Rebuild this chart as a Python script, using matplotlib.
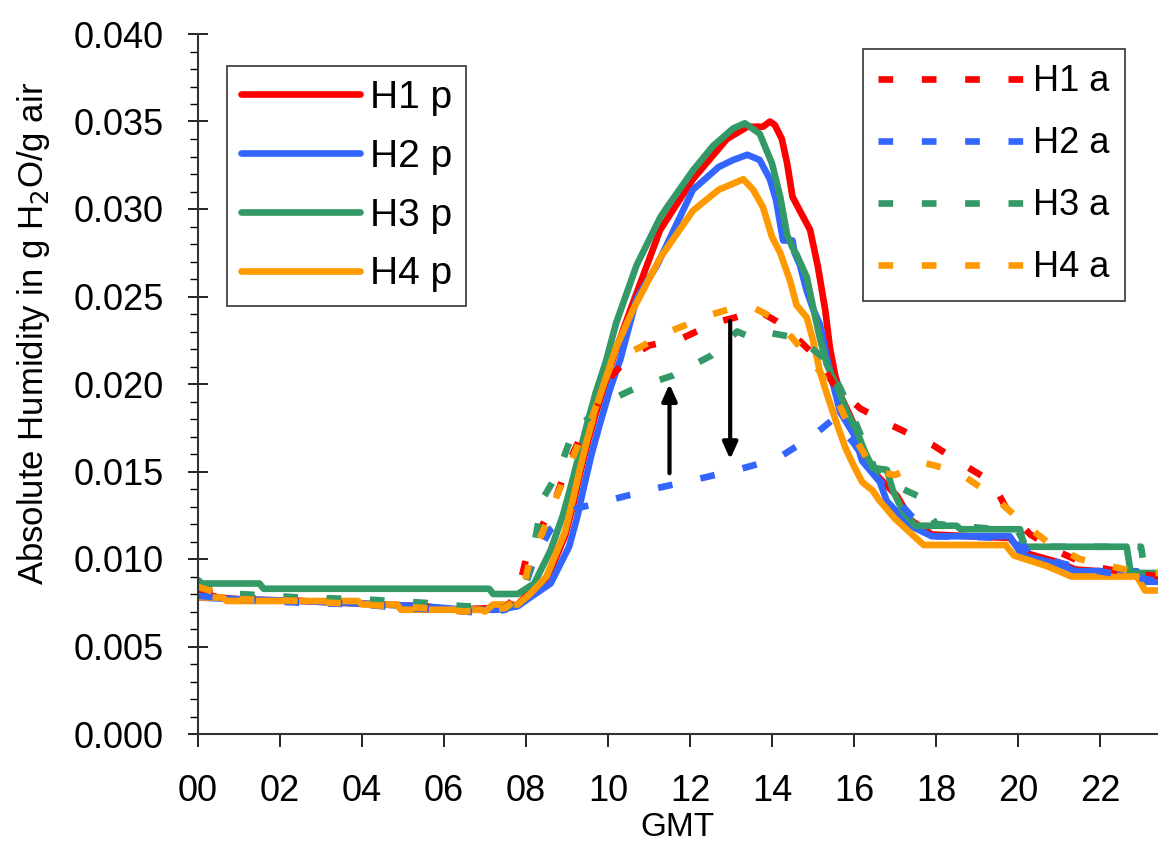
import matplotlib

matplotlib.use("Agg")
import matplotlib.pyplot as plt
from matplotlib.ticker import MultipleLocator, FuncFormatter

plt.rcParams["font.family"] = ["Liberation Sans", "DejaVu Sans"]

# --- data (GMT hour, absolute humidity g/g) ---
h1p_t = [0, 0.5, 1.0, 2.5, 3.5, 4.5, 5.5, 6.2, 7.2, 7.8, 8.0, 8.5, 8.95, 9.15, 9.3, 9.5, 9.7, 9.97,
         10.2, 10.54, 11.27, 12.07, 12.9, 13.4, 13.78, 13.95, 14.07, 14.24, 14.37, 14.5, 14.68, 14.93,
         15.12, 15.3, 15.41, 15.54, 15.7, 15.9, 16.07, 16.2, 16.46, 16.8, 17.05, 17.4, 17.9, 19.8,
         20.1, 21.0, 21.4, 22.6, 23.5]
h1p_v = [0.0081, 0.0078, 0.0077, 0.0076, 0.0075, 0.0074, 0.0073, 0.0071, 0.0072, 0.0074, 0.0079,
         0.0088, 0.0113, 0.0131, 0.0147, 0.0166, 0.0183, 0.0203, 0.0220, 0.0242, 0.0288, 0.0317,
         0.0340, 0.0347, 0.0347, 0.0350, 0.0348, 0.0340, 0.0326, 0.0307, 0.0299, 0.0288, 0.0267,
         0.0242, 0.0221, 0.0205, 0.0192, 0.0182, 0.0173, 0.0163, 0.0150, 0.0142, 0.0136, 0.0122,
         0.0114, 0.0112, 0.0104, 0.0098, 0.0094, 0.0092, 0.0089]

h2p_t = [0, 1.0, 2.5, 3.5, 4.5, 5.5, 6.5, 7.3, 7.8, 8.1, 8.6, 9.05, 9.25, 9.4, 9.6, 9.8, 10.05, 10.3,
         10.7, 11.2, 12.07, 12.7, 13.05, 13.4, 13.7, 13.95, 14.1, 14.27, 14.5, 14.55, 14.68, 14.85,
         15.0, 15.17, 15.34, 15.5, 15.66, 16.0, 16.2, 16.63, 16.8, 17.37, 17.9, 19.8, 20.1, 21.0,
         21.4, 22.9, 23.0, 23.5]
h2p_v = [0.0078, 0.0077, 0.0076, 0.0075, 0.0074, 0.0073, 0.0071, 0.0071, 0.0073, 0.0078, 0.0086,
         0.0107, 0.0124, 0.0140, 0.0160, 0.0177, 0.0197, 0.0214, 0.0249, 0.0268, 0.0311, 0.0324,
         0.0328, 0.0331, 0.0328, 0.0317, 0.0305, 0.0282, 0.0282, 0.0275, 0.0268, 0.0253, 0.0243,
         0.0234, 0.0215, 0.0199, 0.0184, 0.0171, 0.0156, 0.0144, 0.0133, 0.0119, 0.0113, 0.0113,
         0.0102, 0.0097, 0.0093, 0.0093, 0.0087, 0.0087]

h3p_t = [0, 0.1, 1.5, 1.6, 7.1, 7.2, 7.8, 8.2, 8.6, 8.9, 9.1, 9.3, 9.5, 9.7, 9.95, 10.2, 10.7,
         11.27, 11.44, 12.07, 12.56, 13.05, 13.34, 13.7, 14.0, 14.2, 14.37, 14.5, 14.6, 14.85, 15.0,
         15.17, 15.34, 15.6, 15.83, 16.07, 16.27, 16.46, 16.8, 16.95, 17.2, 17.5, 18.5, 18.6, 20.05,
         20.15, 22.65, 22.75, 23.5]
h3p_v = [0.0088, 0.0086, 0.0086, 0.0083, 0.0083, 0.0080, 0.0080, 0.0086, 0.0105, 0.0125, 0.0142,
         0.0160, 0.0178, 0.0195, 0.0213, 0.0235, 0.0268, 0.0295, 0.0301, 0.0322, 0.0336, 0.0346,
         0.0349, 0.0343, 0.0326, 0.0307, 0.0285, 0.0278, 0.0274, 0.0261, 0.0244, 0.0226, 0.0211,
         0.0198, 0.0184, 0.0173, 0.0161, 0.0152, 0.0151, 0.0139, 0.0127, 0.0119, 0.0119, 0.0117,
         0.0117, 0.0107, 0.0107, 0.0092, 0.0092]

h4p_t = [0, 0.05, 0.6, 0.7, 3.9, 4.0, 4.85, 4.95, 6.9, 7.0, 7.2, 7.8, 8.1, 8.5, 8.95, 9.15, 9.3,
         9.5, 9.7, 9.97, 10.2, 10.6, 11.27, 12.07, 12.7, 13.3, 13.54, 13.78, 14.0, 14.2, 14.44, 14.6,
         14.85, 15.0, 15.17, 15.37, 15.6, 15.8, 16.0, 16.2, 16.46, 16.6, 17.0, 17.37, 17.7, 19.7,
         19.9, 20.7, 21.3, 22.9, 23.1, 23.5]
h4p_v = [0.0084, 0.0078, 0.0078, 0.0076, 0.0076, 0.0074, 0.0074, 0.0071, 0.0071, 0.0070, 0.0074,
         0.0074, 0.0080, 0.0090, 0.01155, 0.01345, 0.0150, 0.0169, 0.0186, 0.0205, 0.0221, 0.0242,
         0.0272, 0.0299, 0.0311, 0.0317, 0.0311, 0.0301, 0.0284, 0.0275, 0.0259, 0.0245, 0.0238,
         0.0225, 0.0207, 0.0192, 0.0176, 0.0163, 0.0153, 0.0144, 0.0139, 0.0134, 0.0123, 0.0115,
         0.0108, 0.0108, 0.0102, 0.0096, 0.0090, 0.0090, 0.0082, 0.0082]

h1a_t = [0, 1.0, 2.5, 4.0, 5.5, 6.5, 7.5, 7.8, 8.0, 8.35, 8.7, 9.0, 9.3, 9.6, 10.1, 10.5, 11.0,
         11.8, 12.6, 13.1, 13.66, 14.1, 14.44, 15.1, 15.5, 16.15, 16.95, 17.93, 18.66, 19.37, 19.76,
         20.3, 21.0, 21.75, 22.7, 23.5]
h1a_v = [0.0082, 0.0078, 0.0076, 0.0074, 0.0073, 0.0070, 0.0072, 0.0080, 0.0100, 0.0117, 0.0133,
         0.0153, 0.0168, 0.0180, 0.0205, 0.0215, 0.0222, 0.0226, 0.0235, 0.0238, 0.0242, 0.0236,
         0.0230, 0.0215, 0.0200, 0.0186, 0.0176, 0.0165, 0.0154, 0.0144, 0.0127, 0.0114, 0.0104,
         0.0096, 0.0092, 0.0090]

h2a_t = [0, 1.0, 2.5, 4.0, 5.0, 6.0, 7.0, 7.5, 7.9, 8.2, 8.6, 9.25, 10.1, 11.1, 12.07, 13.15, 14.1,
         14.98, 15.5, 16.0, 16.5, 17.0, 17.5, 18.0, 20.0, 20.3, 21.5, 22.5, 23.5]
h2a_v = [0.0079, 0.0077, 0.0075, 0.0074, 0.0072, 0.0071, 0.0069, 0.0071, 0.0079, 0.0100, 0.0117,
         0.0129, 0.0134, 0.0140, 0.0145, 0.0151, 0.0157, 0.0170, 0.0180, 0.0166, 0.0148, 0.0135,
         0.0122, 0.0113, 0.0112, 0.0102, 0.0095, 0.0091, 0.0087]

h3a_t = [0, 1.0, 2.5, 4.0, 5.5, 6.5, 7.5, 7.9, 8.1, 8.4, 8.8, 9.15, 9.5, 9.8, 10.7, 11.6, 12.5,
         13.15, 13.55, 14.0, 14.68, 15.25, 15.66, 16.0, 16.5, 17.0, 17.56, 18.0, 20.0, 20.2, 23.0,
         23.1, 23.5]
h3a_v = [0.0086, 0.0080, 0.0078, 0.0077, 0.0075, 0.0073, 0.0072, 0.0078, 0.0095, 0.0134, 0.0150,
         0.0173, 0.0180, 0.0188, 0.0198, 0.0205, 0.0216, 0.0230, 0.0226, 0.0229, 0.0226, 0.0215,
         0.0198, 0.0180, 0.0152, 0.0142, 0.0136, 0.0120, 0.0116, 0.0107, 0.0107, 0.0092, 0.0092]

h4a_t = [0, 1.0, 2.5, 4.0, 5.5, 6.5, 7.5, 7.9, 8.1, 8.4, 8.7, 9.0, 9.3, 9.6, 10.1, 10.78, 11.5,
         12.56, 13.0, 13.6, 14.1, 14.76, 15.17, 15.6, 16.0, 16.5, 17.0, 17.7, 18.2, 18.7, 19.4,
         20.05, 20.7, 21.5, 22.24, 23.0, 23.5]
h4a_v = [0.0084, 0.0077, 0.0076, 0.0074, 0.0072, 0.0070, 0.0072, 0.0080, 0.0100, 0.0115, 0.0133,
         0.0150, 0.0167, 0.0180, 0.0213, 0.0221, 0.0230, 0.0240, 0.0243, 0.0243, 0.0237, 0.0219,
         0.0207, 0.0190, 0.0170, 0.0150, 0.0148, 0.0155, 0.0152, 0.0147, 0.0136, 0.0122, 0.0110,
         0.0100, 0.0096, 0.0092, 0.0092]

# arrows (x, tail y, head y)
up_arrow = (11.5, 0.0149, 0.0200)
down_arrow = (12.98, 0.0236, 0.0157)

RED, BLUE, GREEN, ORANGE = "#FF0000", "#3366FF", "#339966", "#FF9900"

fig = plt.figure(figsize=(11.58, 8.48), dpi=100)
ax = fig.add_axes([198 / 1158, 1 - 734 / 848, 960 / 1158, 700 / 848])

LW = 4.8
solid = [(h1p_t, h1p_v, RED, "H1 p"), (h2p_t, h2p_v, BLUE, "H2 p"),
         (h3p_t, h3p_v, GREEN, "H3 p"), (h4p_t, h4p_v, ORANGE, "H4 p")]
dashed = [(h1a_t, h1a_v, RED, "H1 a"), (h2a_t, h2a_v, BLUE, "H2 a"),
          (h3a_t, h3a_v, GREEN, "H3 a"), (h4a_t, h4a_v, ORANGE, "H4 a")]

solid_lines = []
for t, v, c, lab in solid:
    ln, = ax.plot(t, v, color=c, lw=LW, label=lab, solid_joinstyle="round", solid_capstyle="round")
    solid_lines.append(ln)
dash_lines = []
for t, v, c, lab in dashed:
    ln, = ax.plot(t, v, color=c, lw=LW, label=lab, linestyle=(0, (2.2, 4.3)), dash_capstyle="butt")
    dash_lines.append(ln)

for x, y0, y1 in (up_arrow, down_arrow):
    ax.annotate("", xy=(x, y1), xytext=(x, y0),
                arrowprops=dict(arrowstyle="-|>,head_length=1.0,head_width=0.45", lw=3, color="black",
                                shrinkA=0, shrinkB=0))

ax.set_xlim(0, 960 / 41)
ax.set_ylim(0, 0.040)
ax.xaxis.set_major_locator(MultipleLocator(2))
ax.xaxis.set_major_formatter(FuncFormatter(lambda x, p: f"{int(round(x)):02d}"))
ax.yaxis.set_major_locator(MultipleLocator(0.005))
ax.yaxis.set_minor_locator(MultipleLocator(0.001))
ax.yaxis.set_major_formatter(FuncFormatter(lambda y, p: f"{y:.3f}"))

for s in ("top", "right"):
    ax.spines[s].set_visible(False)
for s in ("left", "bottom"):
    ax.spines[s].set_linewidth(1.5)
    ax.spines[s].set_color("#333333")

ax.tick_params(axis="y", which="major", direction="inout", length=15, width=1.2, labelsize=26, pad=17)
ax.tick_params(axis="y", which="minor", direction="out", length=6, width=1.0)
ax.tick_params(axis="x", which="major", direction="out", length=9, width=1.2, labelsize=26, pad=20)

fig.text(34 / 1158, 1 - 333 / 848, "Absolute Humidity in g H$_2$O/g air", rotation=90,
         ha="center", va="center", fontsize=25)
fig.text(677 / 1158, 1 - 828 / 848, "GMT", ha="center", va="center", fontsize=24)

leg1 = ax.legend(handles=solid_lines, loc="upper left", bbox_to_anchor=((227 - 198) / 960, (734 - 66) / 700),
                 borderaxespad=0, fontsize=28, handlelength=3.06, handletextpad=0.26, labelspacing=0.59,
                 borderpad=0.35, frameon=True, fancybox=False, edgecolor="#333333", framealpha=1)
leg1.get_frame().set_linewidth(1.2)
ax.add_artist(leg1)
leg2 = ax.legend(handles=dash_lines, loc="upper left", bbox_to_anchor=((863 - 198) / 960, (734 - 49) / 700),
                 borderaxespad=0, fontsize=26, handlelength=4.0, handletextpad=0.3, labelspacing=0.75,
                 borderpad=0.42, frameon=True, fancybox=False, edgecolor="#333333", framealpha=1)
leg2.get_frame().set_linewidth(1.2)

fig.savefig("out.png", dpi=100)
